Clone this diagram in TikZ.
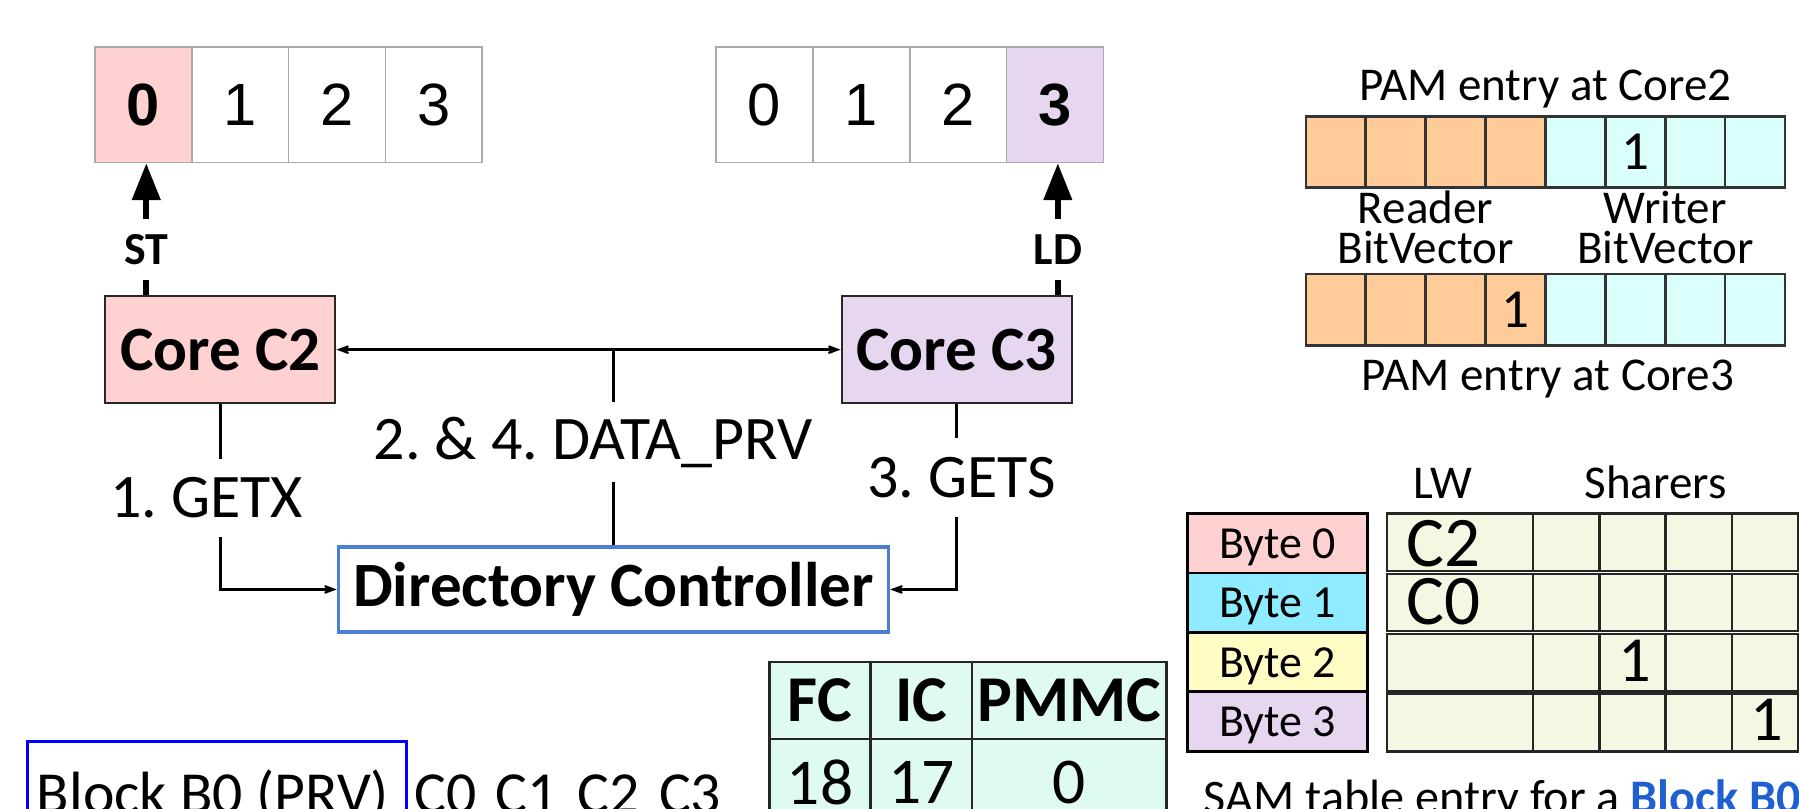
\documentclass[tikz,border=0pt]{standalone}
\usepackage{fontspec}
\setmainfont{Carlito}
\newfontfamily\arialfont{Liberation Sans}
\usetikzlibrary{arrows.meta}
\newcommand{\picfs}[1]{\fontsize{#1pt}{#1pt}\selectfont}
\frenchspacing

\definecolor{corepink}{HTML}{FFD1D1}
\definecolor{corelav}{HTML}{E6D6F0}
\definecolor{bytecyan}{HTML}{8FEBFF}
\definecolor{byteyellow}{HTML}{FFFCC4}
\definecolor{pamorange}{HTML}{FFCC99}
\definecolor{pamcyan}{HTML}{DBFFFB}
\definecolor{samgreen}{HTML}{F2F8E1}
\definecolor{cntmint}{HTML}{DFFAEF}
\definecolor{dirblue}{HTML}{4A7FD4}
\definecolor{blockblue}{HTML}{0000FF}
\definecolor{textblue}{HTML}{1F5FD0}
\definecolor{cellgray}{HTML}{AAAAAA}

\begin{document}
\begin{tikzpicture}[x=1pt,y=-1pt,
  openhead/.tip={Stealth[length=20pt,width=15pt,inset=13pt]},
  arrcell/.style={draw=cellgray, line width=1.5pt, minimum width=84.4pt, minimum height=100.4pt, inner sep=0pt, font=\arialfont\picfs{52}},
  corebox/.style={draw=black!85, line width=2pt, minimum width=200.5pt, minimum height=93.5pt, inner sep=0pt, font=\bfseries\picfs{55}},
  conn/.style={line width=3pt},
  toarrow/.style={conn, -openhead},
  twoarrow/.style={conn, openhead-openhead},
  memarrow/.style={line width=5pt, -{Triangle[length=32pt,width=24pt]}},
  memlabel/.style={fill=white, inner sep=0pt, minimum width=46pt, minimum height=53pt, font=\bfseries\picfs{40}},
  msglabel/.style={inner sep=0pt, font=\picfs{54}},
  pamcell/.style={draw=black!80, line width=2pt, minimum width=52.25pt, minimum height=62pt, inner sep=0pt},
  bitdigit/.style={inner sep=0pt, font=\picfs{48}},
  capt/.style={inner sep=0pt, anchor=base, font=\picfs{41}},
  bytebox/.style={draw=black, line width=2.5pt, minimum width=157.5pt, minimum height=51.8pt, inner sep=0pt, text depth=0pt, font=\picfs{40}},
  samcell/.style={draw=black!85, line width=2pt, fill=samgreen, minimum height=50pt, inner sep=0pt},
  samtext/.style={inner sep=0pt, font=\picfs{62}},
  cntcell/.style={draw=black!85, line width=2pt, fill=cntmint, inner sep=0pt, font=\picfs{57}},
  bottomtext/.style={inner sep=0pt, anchor=base west, font=\picfs{52}}
]
\useasboundingbox (0,0) rectangle (1568,705);
\clip (0,0) rectangle (1568,705);
\fill[white] (0,0) rectangle (1568,705);

% cache line of Core C2 (byte 0 written)
\node[arrcell, fill=corepink, font=\arialfont\bfseries\picfs{52}] (la0) at (124.9,91.4) {0};
\node[arrcell] (la1) at (209.3,91.4) {1};
\node[arrcell] (la2) at (293.7,91.4) {2};
\node[arrcell] (la3) at (378.1,91.4) {3};

% cache line of Core C3 (byte 3 read)
\node[arrcell] (ra0) at (666.3,91.4) {0};
\node[arrcell] (ra1) at (750.7,91.4) {1};
\node[arrcell] (ra2) at (835.1,91.4) {2};
\node[arrcell, fill=corelav, font=\arialfont\bfseries\picfs{52}] (ra3) at (919.5,91.4) {3};

% cores
\node[corebox, fill=corepink] (c2) at (192,304.75) {Core C2};
\node[corebox, fill=corelav] (c3) at (833.85,304.75) {Core C3};

% directory
\node[draw=dirblue, line width=3pt, minimum width=479.5pt, minimum height=74pt, inner sep=0pt, font=\bfseries\picfs{55}] (dir) at (534.7,513.75) {Directory Controller};

% memory accesses
\coordinate (stx) at (127.5,0);
\coordinate (ldx) at (922,0);
\draw[memarrow] (c2.north -| stx) -- node[memlabel, pos=0.345] (st) {ST} (la0.south -| stx);
\draw[memarrow] (c3.north -| ldx) -- node[memlabel, pos=0.345] (ld) {LD} (ra3.south -| ldx);

% data response between the cores
\draw[twoarrow] (c2.east) -- (c3.west);
\node[msglabel, minimum height=69pt] (dpl) at (517,385.5) {2. \& 4. DATA\_PRV};
\draw[conn] (dir.north |- c2.east) -- (dir.north |- dpl.north);
\draw[conn] (dir.north |- dpl.south) -- (dir.north);

% requests to the directory
\node[msglabel, minimum height=68pt] (getx) at (180,434) {1. GETX};
\draw[conn] (c2.south) -- (c2.south |- getx.north);
\draw[toarrow] (c2.south |- getx.south) |- (dir.west);

\node[msglabel, minimum height=68pt] (gets) at (838,416) {3. GETS};
\draw[conn] (c3.south) -- (c3.south |- gets.north);
\draw[toarrow] (c3.south |- gets.south) |- (dir.east);

% PAM entries
\foreach \k in {0,1,2,3} {
  \node[pamcell, fill=pamorange] (pa\k) at ({1164.125+52.25*\k},132.5) {};
  \node[pamcell, fill=pamorange] (pb\k) at ({1164.125+52.25*\k},270) {};
}
\foreach \k in {4,5,6,7} {
  \node[pamcell, fill=pamcyan] (pa\k) at ({1164.125+52.25*\k},132.5) {};
  \node[pamcell, fill=pamcyan] (pb\k) at ({1164.125+52.25*\k},270) {};
}
\node[bitdigit] (pa5v) at (pa5) {1};
\node[bitdigit] (pb3v) at (pb3) {1};
\node[capt] (pamtop) at (1347,87.5) {PAM entry at Core2};
\node[capt] (rdr1) at (1242.5,195) {Reader};
\node[capt] (rdr2) at (1242.5,230) {BitVector};
\node[capt] (wtr1) at (1451.5,195) {Writer};
\node[capt] (wtr2) at (1451.5,230) {BitVector};
\node[capt] (pambot) at (1349,340) {PAM entry at Core3};

% SAM table
\node[capt] (lwh) at (1258,434.5) {LW};
\node[capt] (shh) at (1443,434.5) {Sharers};
\node[bytebox, fill=corepink] (b0) at (1113.5,473.5) {Byte 0};
\node[bytebox, fill=bytecyan] (b1) at (1113.5,525.3) {Byte 1};
\node[bytebox, fill=byteyellow] (b2) at (1113.5,577.1) {Byte 2};
\node[bytebox, fill=corelav] (b3) at (1113.5,628.9) {Byte 3};
\foreach \r in {0,1,2,3} {
  \node[samcell, minimum width=127.5pt] (s\r-0) at (1272.5,{472.6+52.5*\r}) {};
  \foreach \k in {1,2,3,4} {
    \node[samcell, minimum width=57.75pt] (s\r-\k) at ({1307.35+57.75*\k},{472.6+52.5*\r}) {};
  }
}
\node[samtext, anchor=west] (lw0) at (1226,473.8) {C2};
\node[samtext, anchor=west] (lw1) at (1226,524.6) {C0};
\node[samtext, font=\picfs{56}] (sh22) at ([xshift=2pt,yshift=1.5pt]s2-2) {1};
\node[samtext, font=\picfs{56}] (sh34) at ([xshift=1.5pt,yshift=3pt]s3-4) {1};

% counters
\node[cntcell, minimum width=87.8pt, minimum height=66.9pt, font=\bfseries\picfs{57}] (fc) at (714.7,610.35) {FC};
\node[cntcell, minimum width=88.6pt, minimum height=66.9pt, font=\bfseries\picfs{57}] (ic) at (802.9,610.35) {IC};
\node[cntcell, minimum width=169.5pt, minimum height=66.9pt, font=\bfseries\picfs{57}] (pm) at (931.95,610.35) {PMMC};
\node[cntcell, minimum width=87.8pt, minimum height=75.6pt] (fcv) at (714.7,681.6) {18};
\node[cntcell, minimum width=88.6pt, minimum height=75.6pt] (icv) at (802.9,681.6) {17};
\node[cntcell, minimum width=169.5pt, minimum height=75.6pt] (pmv) at (931.95,681.6) {0};

% block state and its cores
\node[draw=blockblue, line width=3pt, minimum width=330.5pt, minimum height=100pt, anchor=north west, inner sep=0pt] (blk) at (22.5,645) {};
\node[bottomtext] (blkt) at (32,709) {Block B0 (PRV)};
\node[bottomtext] (cores) at (361,709) {C0\hspace{17pt}C1\hspace{17pt}C2\hspace{17pt}C3};

% SAM caption
\node[bottomtext, font=\picfs{42}] (samcap) at (1049,709) {SAM table entry for a \textcolor{textblue}{\bfseries Block B0}};
\end{tikzpicture}
\end{document}
